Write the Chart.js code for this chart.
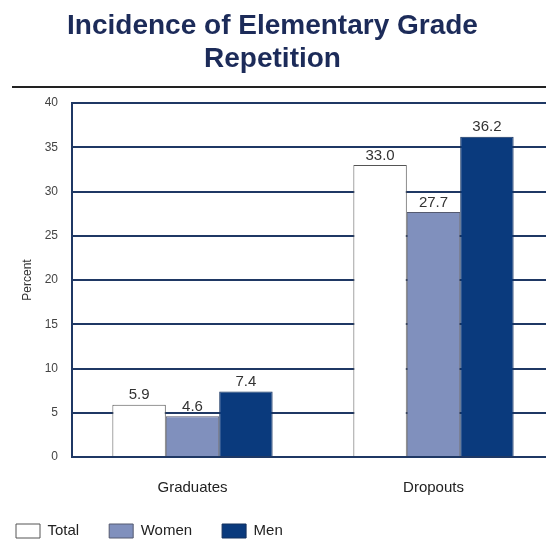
<!DOCTYPE html>
<html>
<head>
<meta charset="utf-8">
<script src="https://cdn.jsdelivr.net/npm/chart.js@4/dist/chart.umd.min.js"></script>
<style>
  html, body { margin: 0; padding: 0; background: #fff; overflow: hidden; }
  #wrap { width: 560px; height: 540px; }
</style>
</head>
<body>
<div id="wrap"><canvas id="myChart"></canvas></div>
<script>
const categories = ["Graduates", "Dropouts"];
const totalValues = [5.9, 33.0];
const womenValues = [4.6, 27.7];
const menValues = [7.4, 36.2];

const navy = "#1f3864";
const fontFamily = "'Liberation Sans', Arial, Helvetica, sans-serif";
const legendPad = 30;

// rule under the title
const titleRule = {
  id: "titleRule",
  afterDraw(chart) {
    const ctx = chart.ctx;
    ctx.save();
    ctx.strokeStyle = "#222";
    ctx.lineWidth = 2;
    ctx.beginPath();
    ctx.moveTo(12, 87);
    ctx.lineTo(chart.width, 87);
    ctx.stroke();
    ctx.restore();
  },
};

// value above each bar
const barValues = {
  id: "barValues",
  afterDatasetsDraw(chart) {
    const ctx = chart.ctx;
    ctx.save();
    ctx.font = `15px ${fontFamily}`;
    ctx.fillStyle = "#333";
    ctx.textAlign = "center";
    ctx.textBaseline = "bottom";
    chart.data.datasets.forEach((ds, i) => {
      chart.getDatasetMeta(i).data.forEach((bar, j) => {
        ctx.fillText(ds.data[j].toFixed(1), bar.x, bar.y - 2);
      });
    });
    ctx.restore();
  },
};

// nudge title and legend after layout
const placeBlocks = {
  id: "placeBlocks",
  afterLayout(chart) {
    chart.titleBlock.left -= 4.5;
    chart.titleBlock.right -= 4.5;
    chart.legend.left -= legendPad - 16;
    chart.legend.top = 531 - legendPad - 7.5;
  },
};

const ctx = document.getElementById("myChart");

const myChart = new Chart(ctx, {
  type: "bar",
  data: {
    labels: categories,
    datasets: [
      {
        label: "Total",
        data: totalValues,
        backgroundColor: "#ffffff",
        borderColor: "#555",
        borderWidth: 1,
      },
      {
        label: "Women",
        data: womenValues,
        backgroundColor: "#8090bd",
        borderColor: "#555a70",
        borderWidth: 1,
      },
      {
        label: "Men",
        data: menValues,
        backgroundColor: "#0a3a7d",
        borderColor: "#13305e",
        borderWidth: 1,
      },
    ],
  },
  options: {
    responsive: true,
    maintainAspectRatio: false,
    animation: false,
    datasets: {
      bar: { barPercentage: 1, categoryPercentage: 0.665 },
    },
    layout: { padding: { left: 0, right: 6, top: 0, bottom: 0 } },
    plugins: {
      title: {
        display: true,
        text: ["Incidence of Elementary Grade", "Repetition"],
        color: "#1c2b59",
        font: { family: fontFamily, size: 28, weight: "bold", lineHeight: 1.18 },
        padding: { top: 10, bottom: 27 },
      },
      legend: {
        position: "bottom",
        align: "start",
        maxHeight: 29,
        labels: {
          boxWidth: 24,
          boxHeight: 14,
          padding: legendPad,
          color: "#222",
          font: { family: fontFamily, size: 15 },
        },
      },
      tooltip: { enabled: false },
    },
    scales: {
      x: {
        grid: { display: false },
        border: { display: true, color: navy, width: 2 },
        ticks: {
          color: "#222",
          font: { family: fontFamily, size: 15 },
          padding: 14,
        },
      },
      y: {
        min: 0,
        max: 40,
        ticks: {
          stepSize: 5,
          color: "#444",
          font: { family: fontFamily, size: 12 },
          padding: 14,
        },
        grid: { color: navy, lineWidth: 2, drawTicks: false },
        border: { display: true, color: navy, width: 2 },
        title: {
          display: true,
          text: "Percent",
          color: "#333",
          font: { family: fontFamily, size: 12 },
          padding: { top: 20, bottom: 0 },
        },
        afterFit(scale) {
          scale.width = 72;
        },
      },
    },
  },
  plugins: [titleRule, barValues, placeBlocks],
});
</script>
</body>
</html>
